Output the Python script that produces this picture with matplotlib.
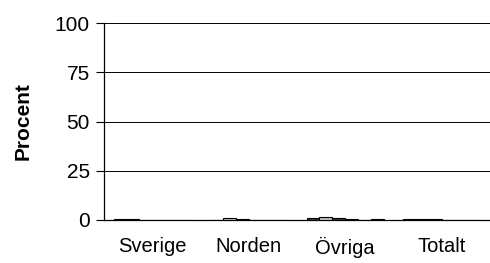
import numpy as np
import matplotlib
matplotlib.use('Agg')
import matplotlib.pyplot as plt

plt.rcParams['font.family'] = ['Liberation Sans', 'DejaVu Sans']

categories = ['Sverige', 'Norden', 'Övriga', 'Totalt']
# six small series per region, values in percent
series = [
    [0.3, 0.2, 1.2, 0.3],
    [0.5, 0.8, 1.5, 0.6],
    [0.2, 0.3, 0.8, 0.3],
    [0.1, 0.1, 0.3, 0.1],
    [0.1, 0.2, 0.2, 0.1],
    [0.1, 0.1, 0.5, 0.2],
]
colors = ['#404040', '#c0c0c0', '#404040', '#c0c0c0', '#404040', '#c0c0c0']
yticks = [0, 25, 50, 75, 100]

fig = plt.figure(figsize=(4.9, 2.63), dpi=100)
ax = fig.add_axes([0.212, 0.1635, 0.788, 0.749])

x = np.arange(len(categories))
n = len(series)
w = 0.8 / n
for i, vals in enumerate(series):
    ax.bar(x - 0.4 + w * (i + 0.5), vals, width=w, color=colors[i],
           edgecolor='black', linewidth=0.8, zorder=3)

ax.set_xlim(-0.5, len(categories) - 0.5)
ax.set_ylim(0, 100)
ax.set_yticks(yticks)
ax.set_xticks(x)
ax.set_xticklabels(categories, fontsize=14.5)
ax.tick_params(axis='x', length=0, pad=12)
ax.tick_params(axis='y', length=6, width=0.8, labelsize=15, pad=4)
ax.yaxis.grid(True, color='black', linewidth=0.7, zorder=0)
ax.set_axisbelow(True)
ax.set_ylabel('Procent', fontsize=15, fontweight='bold', labelpad=16)

for s in ['top', 'right']:
    ax.spines[s].set_visible(False)
ax.spines['left'].set_linewidth(0.9)
ax.spines['bottom'].set_linewidth(0.9)

fig.savefig('out.png', dpi=100)
